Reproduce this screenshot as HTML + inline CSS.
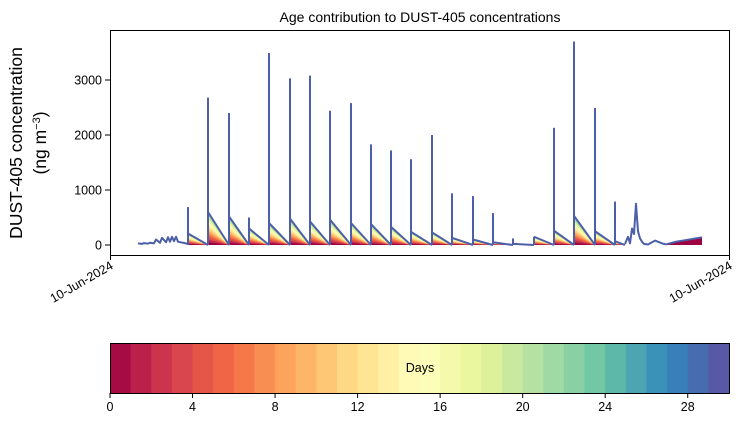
<!DOCTYPE html>
<html><head><meta charset="utf-8"><style>
body{margin:0;background:#fff;font-family:"Liberation Sans",sans-serif}
svg text{font-family:"Liberation Sans","DejaVu Sans",sans-serif}
</style></head><body>
<svg id="c" width="739" height="425" viewBox="0 0 739 425">
<text x="420" y="22" font-size="14" text-anchor="middle">Age contribution to DUST-405 concentrations</text>
<g id="plot"></g>
<rect x="110.5" y="30.5" width="619" height="225" fill="none" stroke="#000" stroke-width="1"/>
<g id="yax"></g>
<text transform="translate(22,143) rotate(-90)" font-size="17.5" text-anchor="middle">DUST-405 concentration</text>
<text transform="translate(46,143) rotate(-90)" font-size="17.5" text-anchor="middle">(ng m<tspan baseline-shift="super" font-size="11">−3</tspan>)</text>
<g>
<line x1="110.5" y1="255" x2="110.5" y2="260" stroke="#000"/>
<line x1="729.5" y1="255" x2="729.5" y2="260" stroke="#000"/>
<text transform="translate(114,268) rotate(-30)" font-size="12.5" text-anchor="end">10-Jun-2024</text>
<text transform="translate(733,268) rotate(-30)" font-size="12.5" text-anchor="end">10-Jun-2024</text>
</g>
<g id="cbar"></g>
<text x="420" y="372" font-size="12.5" text-anchor="middle">Days</text>
</svg>
<script>
// Time positions (arbitrary step units) of dust events
const eventT = [78,98,119,139,159,180,200,220,241,261,281,301,322,342,363,383,403,424,444,464,485,505];
const spikeVal = [690,2680,2400,500,3490,3030,3080,2440,2580,1830,1720,1560,2000,940,890,580,120,150,2130,3700,2490,790];
const sawVal = [210,600,520,300,400,480,430,460,400,380,330,240,230,130,100,50,20,150,260,530,250,70];
const yTicks = [0,1000,2000,3000];
const cbTicks = [0,4,8,12,16,20,24,28];
const noiseT = [28,32,34,38,40,44,46,50,52,56,58,60,62,64,66,68,78];
const noiseV = [30,20,35,25,40,30,100,40,130,50,140,60,150,70,150,60,20];
const clusterT = [515,518,520,522,524,526,528,530,532,534,538,545,552,556];
const clusterV = [20,150,30,300,200,750,250,120,60,20,10,80,30,10];
const tailT = [556,566,576,586,592];
const tailV = [10,60,90,120,140];
const x = t => 110 + t;
const y = v => 245 - v * 0.055;
const NS = "http://www.w3.org/2000/svg";
const spec = ["#9e0142","#d53e4f","#f46d43","#fdae61","#fee08b","#ffffbf","#e6f598","#abdda4","#66c2a5","#3288bd","#5e4fa2"];
function hex(h){return [1,3,5].map(i=>parseInt(h.substr(i,2),16));}
function cmap(f){const p=f*10,i=Math.min(9,Math.floor(p)),r=p-i,a=hex(spec[i]),b=hex(spec[i+1]);
 return "rgb("+a.map((v,k)=>Math.round(v+(b[k]-v)*r)).join(",")+")";}
function el(tag,attrs,parent){const e=document.createElementNS(NS,tag);for(const k in attrs)e.setAttribute(k,attrs[k]);parent.appendChild(e);return e;}
const plot=document.getElementById("plot");
const N=12;
for(let i=0;i<eventT.length;i++){
 const t0=eventT[i], t1=(i+1<eventT.length)?eventT[i+1]:t0+10;
 for(let k=N;k>=1;k--){
  const h=sawVal[i]*k/N;
  const p=el("polygon",{points:`${x(t0)},${y(0)} ${x(t0)},${y(h)} ${x(t1)},${y(0)}`,fill:cmap((k-1)/N*0.8)},plot);
  
  
 }
 const l=el("polyline",{points:`${x(t0)},${y(sawVal[i])} ${x(t1)},${y(0)}`,fill:"none",stroke:"#4c5fa8","stroke-width":2},plot);
 
 
 const s=el("line",{x1:x(t0),x2:x(t0),y1:y(0),y2:y(spikeVal[i]),stroke:"#4c5fa8","stroke-width":2},plot);
 
 
}
function line(ts,vs,name){
 const pts=ts.map((t,i)=>`${x(t)},${y(vs[i])}`).join(" ");
 const n=el("polyline",{points:pts,fill:"none",stroke:"#4c5fa8","stroke-width":2,"stroke-linejoin":"round"},plot);
 
 
 return pts;
}
line(noiseT,noiseV,'early-series');
line(clusterT,clusterV,'late-cluster');
const tp=tailT.map((t,i)=>`${x(t)},${y(tailV[i])}`).join(" ");
const tf=el("polygon",{points:`${x(tailT[0])},${y(0)} ${tp} ${x(tailT[tailT.length-1])},${y(0)}`,fill:"#9e0142"},plot);


line(tailT,tailV,'tail-line');
const yax=document.getElementById("yax");
yTicks.forEach(v=>{
 const tk=el("line",{x1:105,x2:110,y1:y(v),y2:y(v),stroke:"#000"},yax);
 
 
 const tx=el("text",{x:102,y:y(v)+4.5,"font-size":12.5,"text-anchor":"end"},yax);
 tx.textContent=v;
 
 
});
const cb=document.getElementById("cbar");
const cx=d=>110+d*619/30;
for(let d=0;d<30;d++){
 const r=el("rect",{x:cx(d),y:343,width:619/30+0.5,height:50,fill:cmap((d+0.5)/30)},cb);
 
 
}
el("rect",{x:110.5,y:343.5,width:619,height:50,fill:"none",stroke:"#000"},cb);
cbTicks.forEach(d=>{
 el("line",{x1:cx(d),x2:cx(d),y1:393,y2:398,stroke:"#000"},cb);
 const tx=el("text",{x:cx(d),y:411,"font-size":12.5,"text-anchor":"middle"},cb);
 tx.textContent=d;
 
 
});
</script>
</body></html>
